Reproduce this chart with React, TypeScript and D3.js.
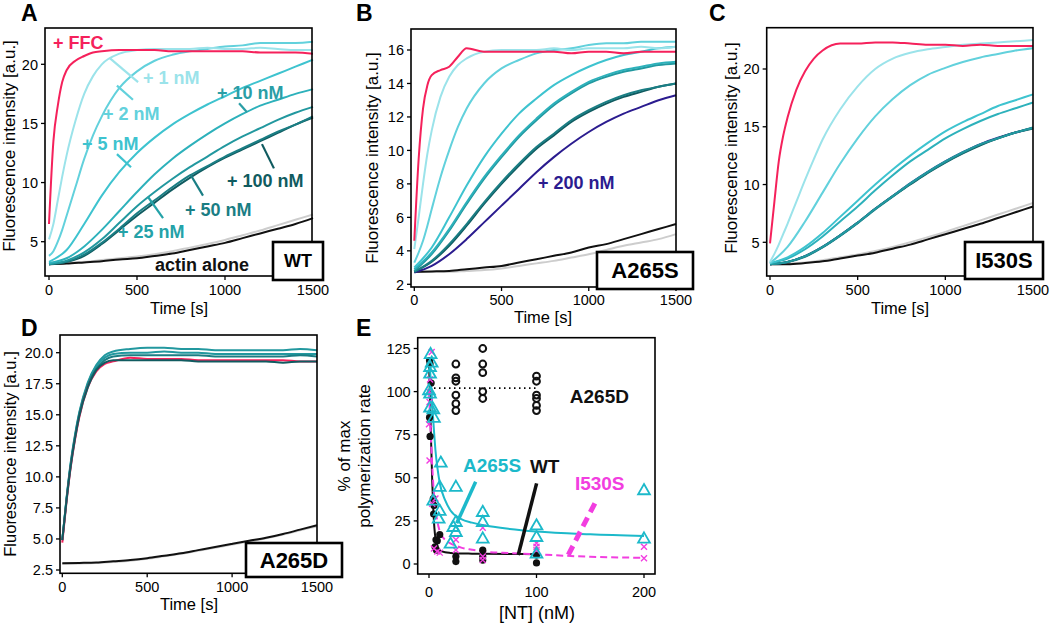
import React from "react";
import * as d3 from "d3";

// ---------- time grids ----------
const TF = [0, 25, 50, 75, 100, 150, 200, 250, 300, 400, 500, 600, 700, 800, 900, 1000, 1100, 1200, 1300, 1400, 1500];
const TS = [0, 100, 200, 300, 400, 500, 600, 700, 800, 900, 1000, 1100, 1200, 1300, 1400, 1500];
const X_TICKS = [0, 500, 1000, 1500];

// ---------- Panel A (WT) ----------
const A_FFC = [6.5, 13.5, 16.5, 18.5, 19.5, 20.3, 20.7, 21.0, 21.1, 21.2, 21.2, 21.2, 21.1, 21.1, 21.1, 21.1, 21.1, 21.0, 21.0, 21.0, 20.9];
const A_1NM = [5.2, 6.5, 8.5, 10.5, 12.3, 15.2, 17.5, 19.0, 20.0, 20.9, 21.2, 21.3, 21.3, 21.3, 21.4, 21.3, 21.3, 21.4, 21.3, 21.2, 21.2];
const A_2NM = [3.8, 4.2, 5.0, 6.0, 7.2, 9.6, 12.0, 14.0, 15.6, 18.0, 19.4, 20.3, 20.8, 21.1, 21.3, 21.5, 21.6, 21.8, 21.8, 21.8, 21.9];
const A_5NM = [3.3, 4.3, 6.5, 8.9, 10.9, 12.5, 13.8, 14.9, 15.8, 16.6, 17.3, 18.0, 18.6, 19.2, 19.8, 20.4];
const A_10NM = [3.2, 3.6, 4.6, 6.0, 7.6, 9.2, 10.7, 12.0, 13.1, 14.1, 15.0, 15.8, 16.5, 17.0, 17.5, 17.9];
const A_25NM = [3.1, 3.4, 4.1, 5.2, 6.6, 8.0, 9.2, 10.3, 11.3, 12.2, 13.1, 13.9, 14.6, 15.3, 15.9, 16.4];
const A_50NM = [3.1, 3.3, 3.9, 4.9, 6.1, 7.4, 8.5, 9.6, 10.6, 11.4, 12.2, 12.9, 13.6, 14.3, 14.9, 15.6];
const A_100NM = [3.1, 3.3, 3.8, 4.8, 6.0, 7.2, 8.3, 9.4, 10.4, 11.3, 12.1, 12.8, 13.5, 14.2, 14.9, 15.5];
const A_ACTIN = [3.1, 3.15, 3.25, 3.35, 3.5, 3.6, 3.8, 4.0, 4.3, 4.6, 4.9, 5.3, 5.7, 6.1, 6.5, 7.0];
const A_ACTIN_GRAY = [3.1, 3.2, 3.3, 3.45, 3.6, 3.75, 3.95, 4.2, 4.5, 4.8, 5.15, 5.55, 5.95, 6.4, 6.85, 7.3];

// ---------- Panel B (A265S) ----------
const B_FFC = [4.6, 9.5, 12.5, 13.9, 14.5, 14.8, 15.0, 15.6, 16.1, 15.9, 15.9, 15.9, 15.9, 15.9, 15.8, 15.9, 15.9, 15.8, 15.9, 15.9, 15.9];
const B_1NM = [4.1, 6.0, 8.0, 9.8, 11.2, 13.2, 14.4, 15.1, 15.5, 15.9, 16.0, 16.0, 16.0, 16.1, 16.0, 16.1, 16.1, 16.1, 16.2, 16.1, 16.2];
const B_2NM = [3.3, 3.9, 4.6, 5.5, 6.5, 8.4, 10.0, 11.4, 12.5, 14.0, 14.9, 15.4, 15.8, 16.0, 16.1, 16.3, 16.4, 16.4, 16.5, 16.5, 16.5];
const B_5NM = [3.0, 4.2, 6.0, 7.9, 9.6, 11.0, 12.2, 13.1, 13.9, 14.5, 15.0, 15.4, 15.7, 15.9, 16.1, 16.2];
const B_10NM = [2.9, 3.9, 5.3, 6.9, 8.4, 9.7, 10.9, 11.9, 12.8, 13.5, 14.1, 14.5, 14.8, 15.0, 15.2, 15.3];
const B_25NM = [2.8, 3.8, 5.2, 6.8, 8.3, 9.6, 10.8, 11.8, 12.7, 13.4, 14.0, 14.4, 14.7, 14.9, 15.1, 15.2];
const B_50NM = [2.75, 3.4, 4.4, 5.6, 6.9, 8.1, 9.2, 10.2, 11.0, 11.8, 12.4, 12.9, 13.3, 13.6, 13.8, 14.0];
const B_100NM = [2.75, 3.35, 4.3, 5.5, 6.8, 8.0, 9.1, 10.1, 10.9, 11.7, 12.3, 12.8, 13.2, 13.5, 13.8, 14.0];
const B_200NM = [2.7, 3.1, 3.8, 4.7, 5.7, 6.7, 7.7, 8.7, 9.6, 10.4, 11.1, 11.7, 12.2, 12.6, 13.0, 13.3];
const B_ACTIN = [2.75, 2.77, 2.8, 2.9, 3.0, 3.1, 3.3, 3.5, 3.7, 3.9, 4.2, 4.4, 4.7, 5.0, 5.3, 5.6];
const B_ACTIN_GRAY = [2.75, 2.75, 2.75, 2.8, 2.85, 2.95, 3.1, 3.25, 3.4, 3.6, 3.8, 4.05, 4.3, 4.5, 4.7, 5.0];

// ---------- Panel C (I530S) ----------
const C_FFC = [4.9, 8.5, 12.0, 14.2, 15.8, 18.2, 19.8, 20.9, 21.6, 22.2, 22.2, 22.3, 22.3, 22.2, 22.1, 22.1, 22.0, 22.1, 22.0, 22.0, 22.0];
const C_1NM = [3.3, 4.0, 4.8, 5.7, 6.6, 8.5, 10.4, 12.2, 13.9, 16.5, 18.5, 20.0, 20.9, 21.4, 21.7, 21.9, 22.1, 22.2, 22.3, 22.4, 22.5];
const C_2NM = [3.2, 4.6, 6.8, 9.3, 11.8, 14.0, 15.9, 17.4, 18.6, 19.5, 20.1, 20.6, 21.0, 21.3, 21.6, 21.8];
const C_5NM = [3.2, 3.7, 4.6, 5.8, 7.2, 8.6, 10.0, 11.3, 12.5, 13.6, 14.6, 15.4, 16.1, 16.8, 17.3, 17.8];
const C_10NM = [3.2, 3.6, 4.4, 5.5, 6.8, 8.1, 9.5, 10.8, 12.0, 13.0, 14.0, 14.8, 15.5, 16.1, 16.6, 17.1];
const C_25NM = [3.1, 3.3, 3.8, 4.6, 5.6, 6.7, 7.9, 9.0, 10.1, 11.1, 12.0, 12.8, 13.5, 14.0, 14.5, 14.9];
const C_50NM = [3.1, 3.3, 3.75, 4.55, 5.55, 6.65, 7.85, 8.95, 10.05, 11.05, 11.95, 12.75, 13.45, 14.0, 14.5, 14.95];
const C_100NM = [3.1, 3.3, 3.8, 4.6, 5.6, 6.7, 7.9, 9.0, 10.0, 11.0, 11.9, 12.7, 13.4, 14.0, 14.5, 14.85];
const C_200NM = [3.1, 3.3, 3.8, 4.6, 5.6, 6.7, 7.9, 9.0, 10.1, 11.1, 12.0, 12.8, 13.5, 14.05, 14.5, 14.9];
const C_ACTIN = [3.1, 3.1, 3.2, 3.35, 3.6, 3.85, 4.1, 4.45, 4.8, 5.25, 5.7, 6.15, 6.6, 7.1, 7.6, 8.1];
const C_ACTIN_GRAY = [3.1, 3.15, 3.25, 3.45, 3.7, 3.95, 4.25, 4.6, 5.0, 5.45, 5.9, 6.4, 6.9, 7.4, 7.9, 8.4];

// ---------- Panel D (A265D) ----------
const D_FFC = [4.7, 8.0, 10.8, 13.0, 14.8, 17.2, 18.5, 19.1, 19.3, 19.6, 19.5, 19.5, 19.5, 19.4, 19.4, 19.4, 19.4, 19.4, 19.4, 19.3, 19.3];
const D_NT1 = [4.9, 8.3, 11.2, 13.4, 15.2, 17.6, 19.0, 19.8, 20.1, 20.3, 20.4, 20.4, 20.3, 20.3, 20.2, 20.2, 20.2, 20.2, 20.2, 20.3, 20.2];
const D_NT2 = [4.9, 8.2, 11.1, 13.3, 15.1, 17.5, 18.9, 19.6, 19.9, 20.0, 20.0, 20.1, 20.0, 20.0, 19.9, 19.9, 19.9, 19.9, 19.9, 19.9, 19.9];
const D_NT3 = [4.9, 8.2, 11.0, 13.2, 15.0, 17.4, 18.7, 19.4, 19.7, 19.8, 19.8, 19.8, 19.8, 19.8, 19.7, 19.7, 19.7, 19.7, 19.7, 19.8, 19.7];
const D_NT4 = [4.9, 8.1, 10.9, 13.1, 14.9, 17.2, 18.6, 19.2, 19.4, 19.4, 19.4, 19.4, 19.4, 19.3, 19.3, 19.3, 19.3, 19.3, 19.2, 19.3, 19.3];
const D_ACTIN = [3.05, 3.07, 3.1, 3.2, 3.3, 3.45, 3.65, 3.85, 4.1, 4.35, 4.6, 4.85, 5.1, 5.4, 5.75, 6.1];
const D_ACTIN_GRAY = [3.0, 3.02, 3.06, 3.15, 3.25, 3.4, 3.6, 3.8, 4.05, 4.3, 4.55, 4.8, 5.05, 5.35, 5.7, 6.0];

// ---------- Panel E ----------
const E_X_TICKS = [0, 100, 200];
const E_Y_TICKS = [0, 25, 50, 75, 100, 125];
const E_A265D_NT = [25, 25, 25, 25, 25, 25, 50, 50, 50, 50, 50, 100, 100, 100, 100, 100, 100];
const E_A265D_RATE = [116, 108, 106, 98, 93, 89, 125, 116, 111, 100, 96, 109, 106, 98, 96, 92, 89];
const E_A265D_MEAN = 102;
const E_WT_NT = [0.5, 1, 2, 0.5, 1, 4, 4.6, 4.3, 6.5, 7.7, 10, 7, 5.6, 25, 25, 50, 50, 50, 100, 100];
const E_WT_RATE = [118, 116, 105, 85, 74, 38, 34, 29, 14, 13.5, 17, 8, 10, 1.4, 4.3, 8, 4.3, 2.3, 5.2, 0.6];
const E_A265S_NT = [1.5, 2.5, 1, 1, 0, 1, 1, 4, 4.6, 11, 4, 10, 10, 9, 25, 22.6, 25, 25, 20, 50, 50, 50, 100, 100, 100, 200, 200];
const E_A265S_RATE = [122, 117, 114.5, 110.6, 101, 99, 91, 90, 85, 59, 37, 45, 31, 26.5, 45, 21.7, 24.6, 18.8, 12, 30.4, 24.6, 15, 22.6, 15.9, 6.2, 43, 15];
const E_I530S_NT = [2.5, 1, 0, 0.5, 0, 0.5, 3, 6, 4.6, 7.7, 10, 25, 25, 50, 50, 50, 100, 100, 100, 200, 200];
const E_I530S_RATE = [123, 107, 100, 94, 81, 60, 35, 38, 9, 7.2, 6.6, 8.1, 14, 2.3, 4.3, 21, 12, 10, 8, 10, 3.3];
const E_FIT_NT = [0, 1, 2, 3, 4, 5, 6, 8, 10, 15, 20, 30, 40, 50, 75, 100, 150, 200];
const E_FIT_WT = [118, 95, 70, 48, 32, 21, 15, 10, 8, 6.8, 6.4, 6.1, 6.0, 5.9, 5.8, 5.7];
const E_FIT_A265S = [120, 112, 103, 93, 83, 74, 66, 55, 47, 37, 31, 26, 24, 22.6, 20.3, 18.8, 17.2, 16.2];
const E_FIT_I530S = [100, 85, 70, 57, 46, 38, 32, 24, 19, 14, 12, 9.5, 8.3, 7.3, 6.3, 5.6, 4.2, 3.6];

// ---------- colours ----------
const RED = "#f5215b";
const C1 = "#9be3ea";
const C2 = "#62d1dc";
const C5 = "#3ec3cf";
const C10 = "#2db1bb";
const C25 = "#22989f";
const C50 = "#1a7e84";
const C100 = "#105b60";
const C200 = "#2b1c8f";
const GRAY = "#cdcdcd";
const BLACK = "#111111";
const CYAN = "#1cb9ca";
const MAGENTA = "#f23ee0";
const FONT = "'Liberation Sans', Arial, Helvetica, sans-serif";

type Box = { l: number; t: number; r: number; b: number };
type Ser = { t: number[]; v: number[]; c: string; w?: number };

function Curves({ series, x, y }: { series: Ser[]; x: any; y: any }) {
  const line = d3
    .line<[number, number]>()
    .x((d) => x(d[0]))
    .y((d) => y(d[1]))
    .curve(d3.curveMonotoneX);
  return (
    <g>
      {series.map((s, i) => (
        <path
          key={i}
          d={line(s.t.map((t, j) => [t, s.v[j]] as [number, number])) || ""}
          fill="none"
          stroke={s.c}
          strokeWidth={s.w ?? 2}
          strokeLinejoin="round"
        />
      ))}
    </g>
  );
}

function Frame({
  box, x, y, xTicks, yTicks, yFmt, xTickDy, fs = 14.5,
}: { box: Box; x: any; y: any; xTicks: number[]; yTicks: number[]; yFmt: (v: number) => string; xTickDy: number; fs?: number }) {
  return (
    <g>
      <rect x={box.l} y={box.t} width={box.r - box.l} height={box.b - box.t} fill="none" stroke="#000" strokeWidth={1.6} />
      {xTicks.map((t) => (
        <g key={"x" + t}>
          <line x1={x(t)} x2={x(t)} y1={box.b} y2={box.b + 4} stroke="#000" strokeWidth={1.3} />
          <text x={x(t)} y={box.b + xTickDy} textAnchor="middle" fontSize={fs}>{t}</text>
        </g>
      ))}
      {yTicks.map((v) => (
        <g key={"y" + v}>
          <line x1={box.l - 4} x2={box.l} y1={y(v)} y2={y(v)} stroke="#000" strokeWidth={1.3} />
          <text x={box.l - 7} y={y(v)} dy="0.36em" textAnchor="end" fontSize={fs}>{yFmt(v)}</text>
        </g>
      ))}
    </g>
  );
}

function LabelBox({ x, y, w, h, text, fs }: { x: number; y: number; w: number; h: number; text: string; fs: number }) {
  return (
    <g>
      <rect x={x} y={y} width={w} height={h} fill="#fff" stroke="#000" strokeWidth={2.6} />
      <text x={x + w / 2} y={y + h / 2} dy="0.36em" textAnchor="middle" fontSize={fs} fontWeight="bold">{text}</text>
    </g>
  );
}

function Pointer({ x, y, p, c, w = 2.2, dash }: { x: any; y: any; p: number[]; c: string; w?: number; dash?: string }) {
  return <line x1={x(p[0])} y1={y(p[1])} x2={x(p[2])} y2={y(p[3])} stroke={c} strokeWidth={w} strokeDasharray={dash} />;
}

export default function App() {
  // ----- Panel A -----
  const boxA: Box = { l: 45, t: 28, r: 312, b: 276 };
  const xA = d3.scaleLinear().domain([0, 1500]).range([49, 313]);
  const yA = d3.scaleLinear().domain([5, 20]).range([241.7, 64.3]);
  const serA: Ser[] = [
    { t: TS, v: A_ACTIN_GRAY, c: GRAY },
    { t: TS, v: A_ACTIN, c: BLACK },
    { t: TS, v: A_100NM, c: C100 },
    { t: TS, v: A_50NM, c: C50 },
    { t: TS, v: A_25NM, c: C25 },
    { t: TS, v: A_10NM, c: C10 },
    { t: TS, v: A_5NM, c: C5 },
    { t: TF, v: A_2NM, c: C2 },
    { t: TF, v: A_1NM, c: C1 },
    { t: TF, v: A_FFC, c: RED },
  ];

  // ----- Panel B -----
  const boxB: Box = { l: 411, t: 29, r: 676, b: 287 };
  const xB = d3.scaleLinear().domain([0, 1500]).range([414.3, 676]);
  const yB = d3.scaleLinear().domain([2, 16]).range([284.3, 50]);
  const serB: Ser[] = [
    { t: TS, v: B_ACTIN_GRAY, c: GRAY },
    { t: TS, v: B_ACTIN, c: BLACK },
    { t: TS, v: B_200NM, c: C200 },
    { t: TS, v: B_100NM, c: C100 },
    { t: TS, v: B_50NM, c: C50 },
    { t: TS, v: B_25NM, c: C25 },
    { t: TS, v: B_10NM, c: C10 },
    { t: TS, v: B_5NM, c: C5 },
    { t: TF, v: B_2NM, c: C2 },
    { t: TF, v: B_1NM, c: C1 },
    { t: TF, v: B_FFC, c: RED },
  ];

  // ----- Panel C -----
  const boxC: Box = { l: 766.7, t: 27.7, r: 1033, b: 276 };
  const xC = d3.scaleLinear().domain([0, 1500]).range([770, 1033]);
  const yC = d3.scaleLinear().domain([5, 20]).range([242.3, 69]);
  const serC: Ser[] = [
    { t: TS, v: C_ACTIN_GRAY, c: GRAY },
    { t: TS, v: C_ACTIN, c: BLACK },
    { t: TS, v: C_200NM, c: C200 },
    { t: TS, v: C_100NM, c: C100 },
    { t: TS, v: C_50NM, c: C50 },
    { t: TS, v: C_25NM, c: C25 },
    { t: TS, v: C_10NM, c: C10 },
    { t: TS, v: C_5NM, c: C5 },
    { t: TS, v: C_2NM, c: C2 },
    { t: TF, v: C_1NM, c: C1 },
    { t: TF, v: C_FFC, c: RED },
  ];

  // ----- Panel D -----
  const boxD: Box = { l: 60, t: 335, r: 317, b: 573.3 };
  const xD = d3.scaleLinear().domain([0, 1500]).range([62.3, 317]);
  const yD = d3.scaleLinear().domain([2.5, 20]).range([570, 352.7]);
  const serD: Ser[] = [
    { t: TS, v: D_ACTIN_GRAY, c: GRAY },
    { t: TS, v: D_ACTIN, c: BLACK },
    { t: TF, v: D_NT1, c: C25 },
    { t: TF, v: D_NT2, c: C25 },
    { t: TF, v: D_NT3, c: C50 },
    { t: TF, v: D_FFC, c: RED },
    { t: TF, v: D_NT4, c: C100 },
  ];

  // ----- Panel E -----
  const boxE: Box = { l: 417.7, t: 337.7, r: 655, b: 574 };
  const xE = d3.scaleLinear().domain([0, 200]).range([429, 644]);
  const yE = d3.scaleLinear().domain([0, 125]).range([564, 348.5]);
  const fitLine = d3
    .line<[number, number]>()
    .x((d) => xE(d[0]))
    .y((d) => yE(d[1]))
    .curve(d3.curveMonotoneX);
  const fitPts = (vals: number[]) => vals.map((v, i) => [E_FIT_NT[i], v] as [number, number]);
  const tri = d3.symbol().type(d3.symbolTriangle).size(60)() || "";

  const titleFs = 17;

  return (
    <svg width={1050} height={624} style={{ position: "absolute", left: 0, top: 0, background: "#fff" }} fontFamily={FONT}>
      <rect x={0} y={0} width={1050} height={624} fill="#fff" />

      {/* panel letters */}
      <g fontSize={23} fontWeight="bold">
        <text x={21} y={21}>A</text>
        <text x={356} y={21}>B</text>
        <text x={709} y={21}>C</text>
        <text x={21} y={336}>D</text>
        <text x={356} y={336}>E</text>
      </g>

      {/* ===== A ===== */}
      <Curves series={serA} x={xA} y={yA} />
      <Frame box={boxA} x={xA} y={yA} xTicks={X_TICKS} yTicks={[5, 10, 15, 20]} yFmt={(v) => String(v)} xTickDy={18.5} />
      <text transform={`translate(15,146) rotate(-90)`} textAnchor="middle" fontSize={titleFs}>Fluorescence intensity [a.u.]</text>
      <text x={179} y={314} textAnchor="middle" fontSize={16.5}>Time [s]</text>
      <g fontWeight="bold" fontSize={18}>
        <text x={xA(23)} y={yA(21.87)} dy="0.36em" fill={RED}>+ FFC</text>
        <text x={xA(534)} y={yA(18.9)} dy="0.36em" fill={C1}>+ 1 nM</text>
        <text x={xA(307)} y={yA(15.87)} dy="0.36em" fill={C2}>+ 2 nM</text>
        <text x={xA(187)} y={yA(13.34)} dy="0.36em" fill={C5}>+ 5 nM</text>
        <text x={xA(955)} y={yA(17.64)} dy="0.36em" fill={"#2a9ea6"}>+ 10 nM</text>
        <text x={xA(1011)} y={yA(10.21)} dy="0.36em" fill={C100}>+ 100 nM</text>
        <text x={xA(773)} y={yA(7.68)} dy="0.36em" fill={C50}>+ 50 nM</text>
        <text x={xA(392)} y={yA(5.82)} dy="0.36em" fill={"#24a2a8"}>+ 25 nM</text>
        <text x={xA(602)} y={yA(3.03)} dy="0.36em" fill={BLACK}>actin alone</text>
      </g>
      <Pointer x={xA} y={yA} p={[347, 20.5, 506, 18.5]} c={C1} />
      <Pointer x={xA} y={yA} p={[386, 18.2, 477, 17.0]} c={C2} />
      <Pointer x={xA} y={yA} p={[386, 12.4, 466, 11.3]} c={C5} />
      <Pointer x={xA} y={yA} p={[1080, 16.7, 1125, 15.95]} c={"#2a9ea6"} />
      <Pointer x={xA} y={yA} p={[1210, 13.25, 1278, 11.2]} c={C100} />
      <Pointer x={xA} y={yA} p={[807, 10.6, 875, 8.9]} c={C50} />
      <Pointer x={xA} y={yA} p={[562, 8.8, 648, 7.0]} c={"#24a2a8"} />
      <LabelBox x={273} y={242} w={50} h={38} text="WT" fs={18} />

      {/* ===== B ===== */}
      <Curves series={serB} x={xB} y={yB} />
      <Frame box={boxB} x={xB} y={yB} xTicks={X_TICKS} yTicks={[2, 4, 6, 8, 10, 12, 14, 16]} yFmt={(v) => String(v)} xTickDy={18} />
      <text transform={`translate(378,158) rotate(-90)`} textAnchor="middle" fontSize={titleFs}>Fluorescence intensity [a.u.]</text>
      <text x={543} y={323} textAnchor="middle" fontSize={16.5}>Time [s]</text>
      <text x={xB(709)} y={yB(8.07)} dy="0.36em" fontWeight="bold" fontSize={18} fill={C200}>+ 200 nM</text>
      <LabelBox x={597} y={252} w={96} h={37} text="A265S" fs={22} />

      {/* ===== C ===== */}
      <Curves series={serC} x={xC} y={yC} />
      <Frame box={boxC} x={xC} y={yC} xTicks={X_TICKS} yTicks={[5, 10, 15, 20]} yFmt={(v) => String(v)} xTickDy={18.5} />
      <text transform={`translate(737,148) rotate(-90)`} textAnchor="middle" fontSize={titleFs}>Fluorescence intensity [a.u.]</text>
      <text x={900} y={314} textAnchor="middle" fontSize={16.5}>Time [s]</text>
      <LabelBox x={965} y={242} w={78} h={37} text="I530S" fs={22} />

      {/* ===== D ===== */}
      <Curves series={serD} x={xD} y={yD} />
      <Frame box={boxD} x={xD} y={yD} xTicks={X_TICKS} yTicks={[2.5, 5, 7.5, 10, 12.5, 15, 17.5, 20]} yFmt={(v) => v.toFixed(1)} xTickDy={18.5} />
      <text transform={`translate(16,454) rotate(-90)`} textAnchor="middle" fontSize={16.5}>Fluorescence intensity [a.u.]</text>
      <text x={189} y={610} textAnchor="middle" fontSize={16.5}>Time [s]</text>
      <LabelBox x={246} y={543} w={96} h={34} text="A265D" fs={22} />

      {/* ===== E ===== */}
      <line x1={xE(0)} x2={xE(100)} y1={yE(E_A265D_MEAN)} y2={yE(E_A265D_MEAN)} stroke="#000" strokeWidth={1.8} strokeDasharray="1.5,3.5" />
      <path d={fitLine(fitPts(E_FIT_WT)) || ""} fill="none" stroke={BLACK} strokeWidth={2} />
      <path d={fitLine(fitPts(E_FIT_I530S)) || ""} fill="none" stroke={MAGENTA} strokeWidth={2} strokeDasharray="7,4" />
      <path d={fitLine(fitPts(E_FIT_A265S)) || ""} fill="none" stroke={CYAN} strokeWidth={2} />
      {E_A265D_NT.map((c, i) => (
        <circle key={"d" + i} cx={xE(c)} cy={yE(E_A265D_RATE[i])} r={3.4} fill="none" stroke={BLACK} strokeWidth={2} />
      ))}
      {E_WT_NT.map((c, i) => (
        <circle key={"w" + i} cx={xE(c)} cy={yE(E_WT_RATE[i])} r={3.6} fill={BLACK} />
      ))}
      {E_I530S_NT.map((c, i) => {
        const px = xE(c), py = yE(E_I530S_RATE[i]);
        return <path key={"m" + i} d={`M${px - 3},${py - 3}L${px + 3},${py + 3}M${px - 3},${py + 3}L${px + 3},${py - 3}`} stroke={MAGENTA} strokeWidth={1.4} />;
      })}
      {E_A265S_NT.map((c, i) => (
        <path key={"s" + i} d={tri} transform={`translate(${xE(c)},${yE(E_A265S_RATE[i]) + 1})`} fill="none" stroke={CYAN} strokeWidth={1.8} />
      ))}
      <Frame box={boxE} x={xE} y={yE} xTicks={E_X_TICKS} yTicks={E_Y_TICKS} yFmt={(v) => String(v)} xTickDy={22.5} />
      <g fontSize={titleFs}>
        <text transform={`translate(350,456) rotate(-90)`} textAnchor="middle">% of max</text>
        <text transform={`translate(370,456) rotate(-90)`} textAnchor="middle">polymerization rate</text>
      </g>
      <text x={537} y={619} textAnchor="middle" fontSize={18}>[NT] (nM)</text>
      <g fontWeight="bold" fontSize={19}>
        <text x={xE(131)} y={yE(97.4)} dy="0.36em" fill={BLACK}>A265D</text>
        <text x={xE(31.6)} y={yE(57.4)} dy="0.36em" fill={CYAN}>A265S</text>
        <text x={xE(93.9)} y={yE(56.8)} dy="0.36em" fill={BLACK}>WT</text>
        <text x={xE(135.7)} y={yE(47)} dy="0.36em" fill={MAGENTA}>I530S</text>
      </g>
      <Pointer x={xE} y={yE} p={[43.4, 47.7, 25.8, 23.6]} c={CYAN} w={3.5} />
      <Pointer x={xE} y={yE} p={[100.1, 46.8, 83, 5.2]} c={BLACK} w={3.5} />
      <Pointer x={xE} y={yE} p={[154.3, 35.2, 129.5, 5.2]} c={MAGENTA} w={5} dash="10,6" />
    </svg>
  );
}
